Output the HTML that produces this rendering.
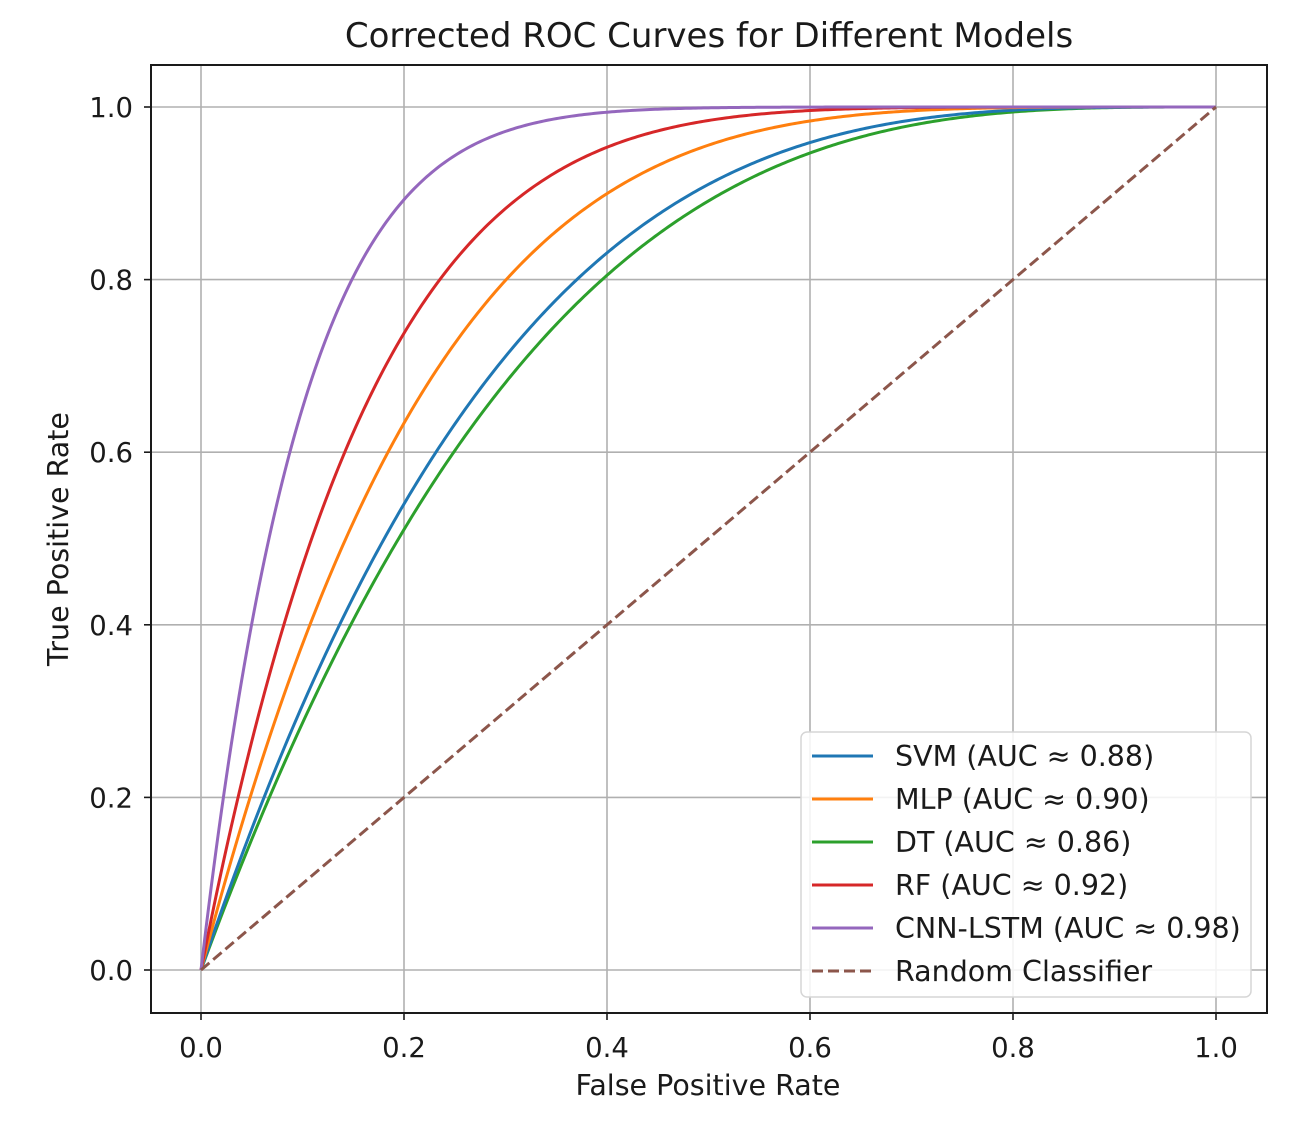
<!DOCTYPE html>
<html><head><style>body{margin:0;background:#fff}svg{display:block}text{font-family:"DejaVu Sans","Liberation Sans",sans-serif;fill:#1a1a1a}</style></head>
<body>
<svg id="s" width="1300" height="1126" xmlns="http://www.w3.org/2000/svg">
<rect width="1300" height="1126" fill="#fff"/>
<g id="grid" stroke="#b0b0b0" stroke-width="1.6"></g>
<g id="curves" fill="none" stroke-width="3"></g>
<line x1="201" y1="970" x2="1216" y2="107" stroke="#8c564b" stroke-width="3" stroke-dasharray="11,5"/>
<rect x="151" y="65" width="1116" height="948" fill="none" stroke="#1a1a1a" stroke-width="2"/>
<g id="ticks" stroke="#1a1a1a" stroke-width="1.6"></g>
<g id="labels" font-size="27.5"></g>
<text x="709" y="47" font-size="34" text-anchor="middle">Corrected ROC Curves for Different Models</text>
<text x="708" y="1095" font-size="28.5" text-anchor="middle">False Positive Rate</text>
<text x="68" y="539" font-size="28.5" text-anchor="middle" transform="rotate(-90 68 539)">True Positive Rate</text>
<rect x="801" y="732" width="450" height="265" rx="6" fill="#fff" fill-opacity="0.85" stroke="#d6d6d6" stroke-width="1.5"/>
<g font-size="28.5" stroke-width="3">
<line x1="812" y1="756" x2="873" y2="756" stroke="#1f77b4"/><text x="895" y="766">SVM (AUC ≈ 0.88)</text>
<line x1="812" y1="799" x2="873" y2="799" stroke="#ff7f0e"/><text x="895" y="809">MLP (AUC ≈ 0.90)</text>
<line x1="812" y1="842" x2="873" y2="842" stroke="#2ca02c"/><text x="895" y="852">DT (AUC ≈ 0.86)</text>
<line x1="812" y1="885" x2="873" y2="885" stroke="#d62728"/><text x="895" y="895">RF (AUC ≈ 0.92)</text>
<line x1="812" y1="928" x2="873" y2="928" stroke="#9467bd"/><text x="895" y="938">CNN-LSTM (AUC ≈ 0.98)</text>
<line x1="812" y1="971" x2="873" y2="971" stroke="#8c564b" stroke-dasharray="11,5"/><text x="895" y="981">Random Classifier</text>
</g>
</svg>
<script>
var NS="http://www.w3.org/2000/svg";
function X(v){return 201+1015*v}function Y(v){return 970-863*v}
function el(p,t,a){var e=document.createElementNS(NS,t);for(var k in a)e.setAttribute(k,a[k]);document.getElementById(p).appendChild(e);return e}
for(var i=0;i<=5;i++){var v=i*0.2;
el("grid","line",{x1:X(v),x2:X(v),y1:65,y2:1013});
el("grid","line",{x1:151,x2:1267,y1:Y(v),y2:Y(v)});
el("ticks","line",{x1:X(v),x2:X(v),y1:1013,y2:1020});
el("ticks","line",{x1:144,x2:151,y1:Y(v),y2:Y(v)});
el("labels","text",{x:X(v),y:1057,"text-anchor":"middle"}).textContent=v.toFixed(1);
el("labels","text",{x:133,y:Y(v)+10,"text-anchor":"end"}).textContent=v.toFixed(1);}
var cs=[[3.2,"#2ca02c"],[3.48,"#1f77b4"],[4.5,"#ff7f0e"],[6,"#d62728"],[10,"#9467bd"]];
cs.forEach(function(c){var d="";for(var j=0;j<=400;j++){var x=j/400,y=1-Math.pow(1-x,c[0]);d+=(j?"L":"M")+X(x).toFixed(2)+","+Y(y).toFixed(2)}
el("curves","path",{d:d,stroke:c[1]});});
</script>
</body></html>
